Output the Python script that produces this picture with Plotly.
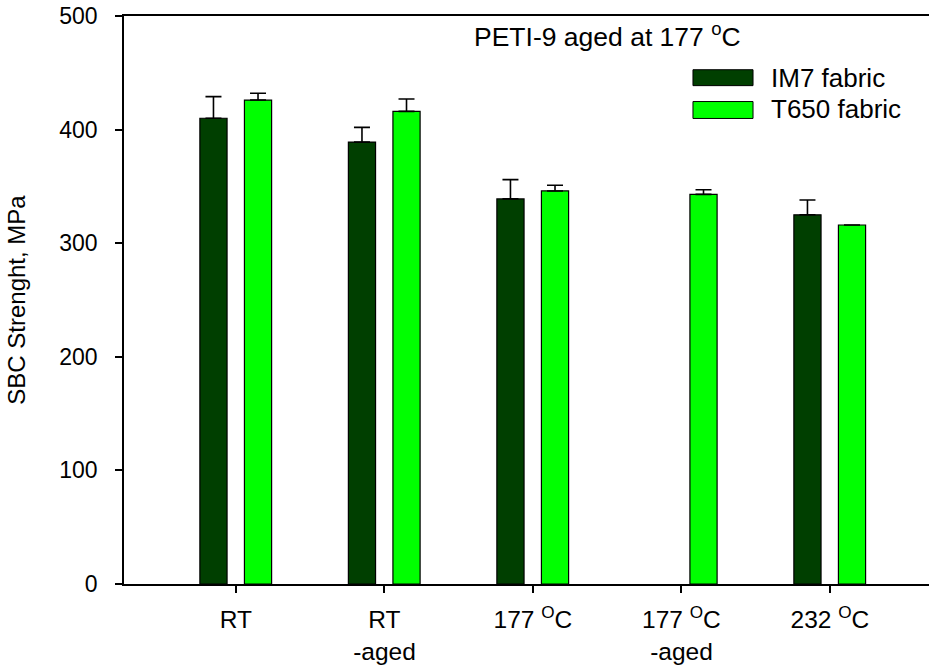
import plotly.graph_objects as go

categories = ["RT", "RT<br>-aged", "177 <sup>O</sup>C", "177 <sup>O</sup>C<br>-aged", "232 <sup>O</sup>C"]
series_names = ["IM7 fabric", "T650 fabric"]
im7_values = [410, 389, 339, None, 325]
im7_errors = [19, 13, 17, 0, 13]
t650_values = [426, 416, 346, 343, 316]
t650_errors = [6, 11, 5, 4, 0]
y_ticks = [0, 100, 200, 300, 400, 500]

colors = ["#003F00", "#00FF00"]
FONT = "Liberation Sans, Arial, sans-serif"

x_pos = list(range(len(categories)))
fig = go.Figure()
for name, vals, errs, col, off in [
    (series_names[0], im7_values, im7_errors, colors[0], -0.243),
    (series_names[1], t650_values, t650_errors, colors[1], 0.057),
]:
    fig.add_trace(go.Bar(
        x=x_pos, y=vals, name=name, width=0.183, offset=off,
        marker=dict(color=col, line=dict(color="black", width=1.2)),
        error_y=dict(type="data", symmetric=False, array=errs,
                     arrayminus=[0] * len(errs), color="black",
                     thickness=1.6, width=8),
        showlegend=False,
    ))

# legend drawn as boxes + labels
legend_rows = [(0.8774, 0.9054, 0.8914), (0.8196, 0.8494, 0.8354)]
for (y0, y1, yc), name, col in zip(legend_rows, series_names, colors):
    fig.add_shape(type="rect", xref="paper", yref="paper",
                  x0=0.7068, x1=0.7814, y0=y0, y1=y1,
                  fillcolor=col, line=dict(color="black", width=1))
    fig.add_annotation(xref="paper", yref="paper", x=0.8012, y=yc,
                       text=name, showarrow=False, xanchor="left",
                       yanchor="middle", font=dict(size=26, color="black", family=FONT))

fig.add_annotation(xref="paper", yref="paper", x=0.601, y=0.9667,
                   text="PETI-9 aged at 177 <sup>o</sup>C", showarrow=False,
                   xanchor="center", yanchor="middle",
                   font=dict(size=26.5, color="black", family=FONT))

fig.update_layout(
    width=929, height=665,
    margin=dict(l=124, r=0, t=16, b=78),
    paper_bgcolor="white", plot_bgcolor="white",
    barmode="overlay",
    font=dict(family=FONT, size=24, color="black"),
    xaxis=dict(range=[-0.754, 4.667], tickvals=x_pos, ticktext=categories,
               showline=True, linecolor="black", linewidth=1.5, mirror=True,
               ticks="outside", ticklen=7, tickcolor="black", tickwidth=1.5,
               ticklabelstandoff=6, ticklabeloverflow="allow",
               showgrid=False, zeroline=False, tickfont=dict(size=24.5)),
    yaxis=dict(range=[0, 500], tickvals=y_ticks,
               showline=True, linecolor="black", linewidth=1.5,
               ticks="outside", ticklen=7, tickcolor="black", tickwidth=1.5,
               ticklabelstandoff=13, ticklabeloverflow="allow",
               showgrid=False, zeroline=False, tickfont=dict(size=23),
               title=dict(text="SBC Strenght, MPa", font=dict(size=24), standoff=27)),
)

fig.write_html(
    "out.html",
    config={"displayModeBar": False},
    post_script="document.body.style.margin='0';document.body.style.overflow='hidden';",
)
